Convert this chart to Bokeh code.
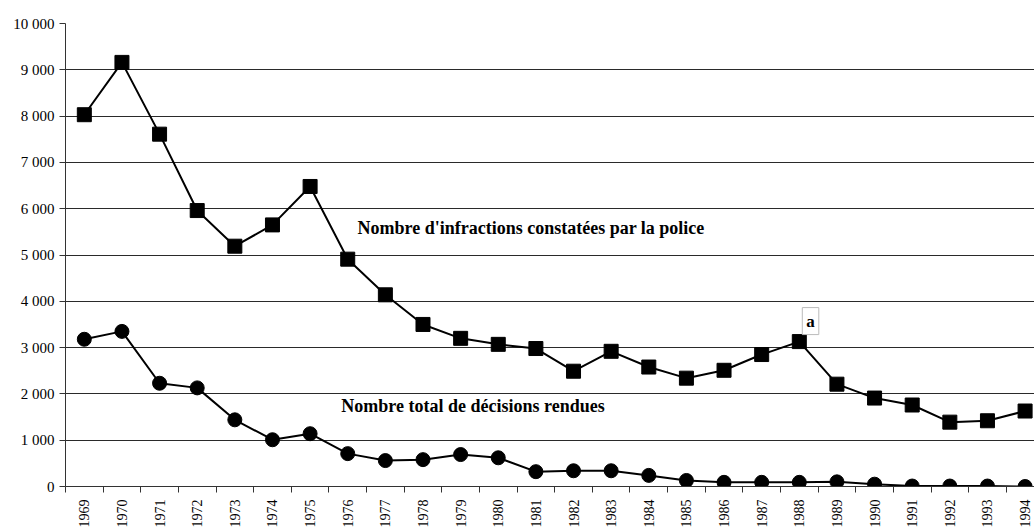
from bokeh.plotting import figure
from bokeh.models import Range1d, FixedTicker, CustomJSTickFormatter, Label, ColumnDataSource
from bokeh.embed import file_html
from bokeh.resources import INLINE
import math

years = list(range(1969, 1995))
infractions = [8030, 9160, 7610, 5960, 5190, 5650, 6480, 4910, 4140, 3500,
               3200, 3070, 2980, 2490, 2920, 2580, 2340, 2510, 2850, 3130,
               2210, 1910, 1760, 1390, 1420, 1630]
decisions = [3180, 3350, 2230, 2130, 1440, 1010, 1140, 710, 560, 580,
             690, 620, 320, 340, 340, 240, 130, 90, 90, 90,
             100, 50, 10, 10, 10, 0]
y_ticks = list(range(0, 10001, 1000))

FONT = "'Liberation Serif', 'Times New Roman', serif"

p = figure(width=1034, height=530, output_backend="svg", toolbar_location=None,
           x_range=Range1d(years[0] - 0.5, years[-1] + 0.25), y_range=Range1d(0, 10000),
           min_border_left=65, min_border_right=0, min_border_top=23, min_border_bottom=0)
p.outline_line_color = None
p.xgrid.grid_line_color = None
p.ygrid.grid_line_color = "#2a2a2a"
p.ygrid.grid_line_width = 1
p.ygrid.ticker = FixedTicker(ticks=y_ticks[1:])

p.yaxis.ticker = FixedTicker(ticks=y_ticks)
p.yaxis.formatter = CustomJSTickFormatter(code="return Math.round(tick).toString().replace(/\\B(?=(\\d{3})+(?!\\d))/g, ' ');")
p.yaxis.major_tick_in = 0
p.yaxis.major_tick_out = 6
p.yaxis.minor_tick_line_color = None
p.yaxis.major_label_text_font = FONT
p.yaxis.major_label_text_font_size = "15px"
p.yaxis.major_label_text_color = "black"
p.yaxis.axis_line_color = "#333333"
p.yaxis.major_tick_line_color = "#333333"

p.xaxis.ticker = FixedTicker(ticks=years, minor_ticks=[y - 0.5 for y in years])
p.xaxis.formatter = CustomJSTickFormatter(code="return Math.round(tick).toString();")
p.xaxis.major_tick_in = 0
p.xaxis.major_tick_out = 0
p.xaxis.minor_tick_in = 0
p.xaxis.minor_tick_out = 6
p.xaxis.minor_tick_line_color = "#333333"
p.xaxis.major_label_orientation = math.pi / 2
p.xaxis.major_label_standoff = 7
p.xaxis.major_label_text_font = FONT
p.xaxis.major_label_text_font_size = "14px"
p.xaxis.major_label_text_color = "black"
p.xaxis.axis_line_color = "#333333"

src = ColumnDataSource(dict(x=years, inf=infractions, dec=decisions))
p.line("x", "inf", source=src, line_color="black", line_width=2)
p.scatter("x", "inf", source=src, marker="square", size=14, fill_color="black", line_color="black")
p.line("x", "dec", source=src, line_color="black", line_width=2)
p.scatter("x", "dec", source=src, marker="circle", size=14, fill_color="black", line_color="black")

p.add_layout(Label(x=1976.26, y=5580, text="Nombre d'infractions constatées par la police",
                   text_font=FONT, text_font_size="18px", text_font_style="bold", text_color="black",
                   text_baseline="middle", text_align="left"))
p.add_layout(Label(x=1975.83, y=1740, text="Nombre total de décisions rendues",
                   text_font=FONT, text_font_size="18px", text_font_style="bold", text_color="black",
                   text_baseline="middle", text_align="left"))
p.add_layout(Label(x=1988, y=infractions[years.index(1988)], y_offset=7, x_offset=3,
                   text="a", text_font=FONT, text_font_size="17px", text_font_style="bold", text_color="black",
                   text_baseline="bottom", text_align="left", padding=4,
                   border_line_color="#bbbbbb", background_fill_color="white"))

open("out.html", "w").write(file_html(p, INLINE))
